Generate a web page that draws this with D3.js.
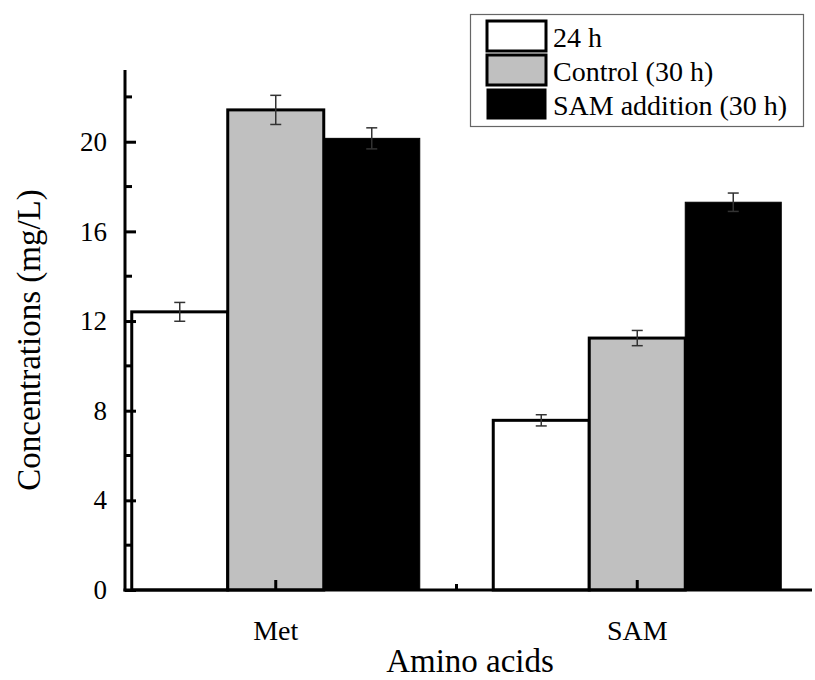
<!DOCTYPE html>
<html>
<head>
<meta charset="utf-8">
<script src="https://cdn.jsdelivr.net/npm/d3@7/dist/d3.min.js"></script>
<style>
  html, body { margin: 0; padding: 0; background: #fff; }
  svg { display: block; }
  svg text { font-family: "Liberation Serif", "DejaVu Serif", serif; }
</style>
</head>
<body>
<svg id="chart" width="815" height="680"></svg>
<script>
const categories = ["Met", "SAM"];
const seriesNames = ["24 h", "Control (30 h)", "SAM addition (30 h)"];
const seriesColors = ["#ffffff", "#c0c0c0", "#000000"];
const values24h = [12.41, 7.57];
const valuesControl = [21.42, 11.24];
const valuesSAM = [20.15, 17.3];
const err24h = [0.42, 0.25];
const errControl = [0.65, 0.34];
const errSAM = [0.47, 0.41];
const yTicks = [0, 4, 8, 12, 16, 20];
const yMinorTicks = [2, 6, 10, 14, 18, 22];

const seriesValues = [values24h, valuesControl, valuesSAM];
const seriesErrs = [err24h, errControl, errSAM];
const FONT = "'Liberation Serif', 'DejaVu Serif', serif";

const data = [];
categories.forEach((c, ci) => {
  seriesNames.forEach((s, si) => {
    data.push({cat: c, series: s, si: si, value: seriesValues[si][ci], err: seriesErrs[si][ci]});
  });
});

const svg = d3.select("#chart");
const x0 = 125, xEnd = 812;
const y = d3.scaleLinear().domain([0, 23.2]).range([590, 70]);
const x = d3.scaleBand().domain(categories).range([95, 818]).padding(0);
const xs = d3.scaleBand().domain(seriesNames).range([-144, 144]).padding(0);
const cx = c => x(c) + x.bandwidth() / 2;

// bars
const g = svg.append("g");
g.selectAll("rect.bar").data(data).enter().append("rect")
  .attr("class", "bar")
  .attr("x", d => cx(d.cat) + xs(d.series))
  .attr("width", xs.bandwidth())
  .attr("y", d => y(d.value))
  .attr("height", d => y(0) - y(d.value))
  .attr("fill", d => seriesColors[d.si])
  .attr("stroke", "#000")
  .attr("stroke-width", d => d.si === 2 ? 1 : 3);

// error bars
const eb = g.selectAll("g.err").data(data).enter().append("g").attr("class", "err")
  .attr("stroke", "#333").attr("stroke-width", 1.5);
const ex = d => cx(d.cat) + xs(d.series) + xs.bandwidth() / 2;
eb.append("line").attr("x1", ex).attr("x2", ex)
  .attr("y1", d => y(d.value + d.err)).attr("y2", d => y(d.value - d.err));
eb.append("line").attr("x1", d => ex(d) - 5.5).attr("x2", d => ex(d) + 5.5)
  .attr("y1", d => y(d.value + d.err)).attr("y2", d => y(d.value + d.err));
eb.append("line").attr("x1", d => ex(d) - 5.5).attr("x2", d => ex(d) + 5.5)
  .attr("y1", d => y(d.value - d.err)).attr("y2", d => y(d.value - d.err));

// y axis
const yAxis = svg.append("g").attr("transform", `translate(${x0},0)`)
  .call(d3.axisLeft(y).tickValues(yTicks).tickSizeInner(-11).tickSizeOuter(0).tickPadding(18).tickFormat(d3.format("d")));
yAxis.attr("font-family", FONT).attr("font-size", 27);
yAxis.select(".domain").remove();
yAxis.selectAll(".tick line").attr("stroke", "#000").attr("stroke-width", 3);
yAxis.selectAll(".tick text").attr("fill", "#000");
yAxis.selectAll("line.minor").data(yMinorTicks).enter().append("line")
  .attr("class", "minor")
  .attr("x1", 0).attr("x2", 7)
  .attr("y1", d => y(d)).attr("y2", d => y(d))
  .attr("stroke", "#000").attr("stroke-width", 3);
yAxis.append("line").attr("x1", 0).attr("x2", 0).attr("y1", y(23.2)).attr("y2", y(0) + 1.5)
  .attr("stroke", "#000").attr("stroke-width", 3);

// x axis
const xAxis = svg.append("g").attr("transform", `translate(0,${y(0)})`)
  .call(d3.axisBottom(x).tickSizeInner(-10).tickSizeOuter(0).tickPadding(30));
xAxis.attr("font-family", FONT).attr("font-size", 28);
xAxis.select(".domain").remove();
xAxis.selectAll(".tick line").attr("stroke", "#000").attr("stroke-width", 3);
xAxis.selectAll(".tick text").attr("fill", "#000");
const midX = (cx(categories[0]) + cx(categories[1])) / 2;
xAxis.append("line").attr("x1", midX).attr("x2", midX).attr("y1", 0).attr("y2", -6)
  .attr("stroke", "#000").attr("stroke-width", 3);
xAxis.append("line").attr("x1", x0 - 1.5).attr("x2", xEnd).attr("y1", 0).attr("y2", 0)
  .attr("stroke", "#000").attr("stroke-width", 3);

// axis titles
svg.append("text").attr("x", 470).attr("y", 672).attr("text-anchor", "middle")
  .attr("font-size", 33).attr("fill", "#000").text("Amino acids");
svg.append("text").attr("transform", "translate(40,340) rotate(-90)").attr("text-anchor", "middle")
  .attr("font-size", 33).attr("fill", "#000").text("Concentrations (mg/L)");

// legend
const lg = svg.append("g");
lg.append("rect").attr("x", 470.5).attr("y", 14.5).attr("width", 333).attr("height", 112)
  .attr("fill", "#fff").attr("stroke", "#666").attr("stroke-width", 1.2);
const li = lg.selectAll("g.item").data(seriesNames).enter().append("g")
  .attr("transform", (d, i) => `translate(487,${21 + i * 34})`);
li.append("rect").attr("width", 59).attr("height", 30)
  .attr("fill", (d, i) => seriesColors[i]).attr("stroke", "#000").attr("stroke-width", (d, i) => i === 2 ? 1 : 3);
li.append("text").attr("x", 66).attr("y", 26).attr("font-size", 28).attr("fill", "#000").text(d => d);
</script>
</body>
</html>
